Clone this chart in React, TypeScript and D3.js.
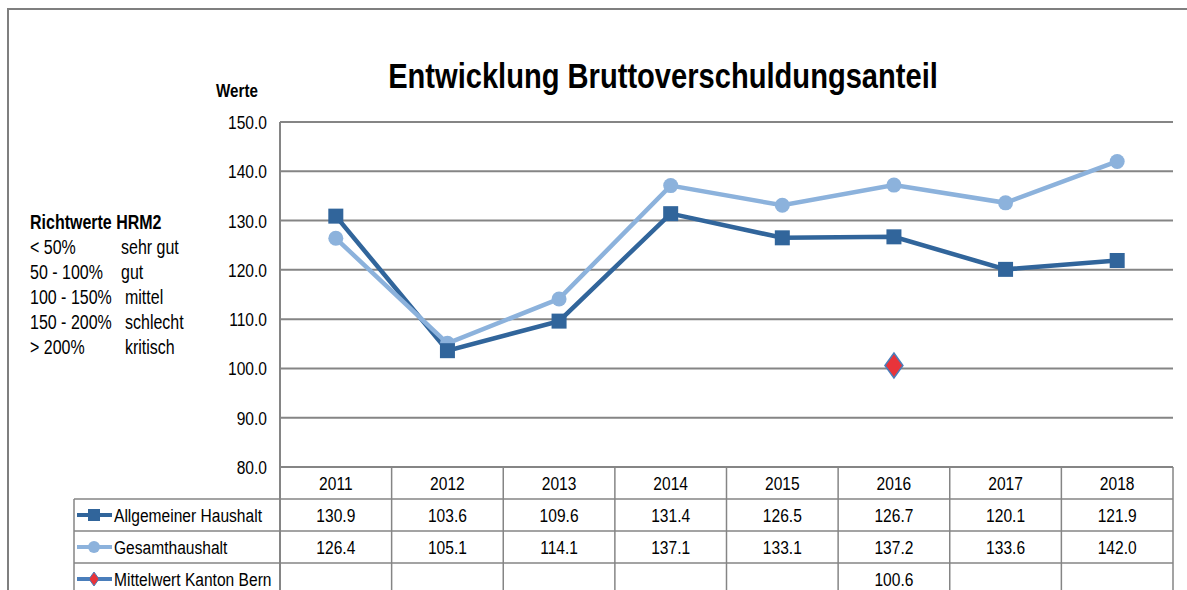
import React from "react";
import * as d3 from "d3";

const years = ["2011", "2012", "2013", "2014", "2015", "2016", "2017", "2018"];
const allgemeiner = [130.9, 103.6, 109.6, 131.4, 126.5, 126.7, 120.1, 121.9];
const gesamt = [126.4, 105.1, 114.1, 137.1, 133.1, 137.2, 133.6, 142.0];
const mittelwert: (number | null)[] = [null, null, null, null, null, 100.6, null, null];
const yTicks = [80, 90, 100, 110, 120, 130, 140, 150];
const richtwerte = [
  ["< 50%", "sehr gut"],
  ["50 - 100%", "gut"],
  ["100 - 150%", "mittel"],
  ["150 - 200%", "schlecht"],
  ["> 200%", "kritisch"],
];

const FONT = "'Liberation Sans', Arial, sans-serif";
const DARK = "#31659b";
const LIGHT = "#8cb2dc";
const GRID = "#858585";
const NARROW = 0.82;

function T(props: {
  x: number;
  y: number;
  size: number;
  anchor?: "start" | "middle" | "end";
  bold?: boolean;
  children: React.ReactNode;
}) {
  return (
    <text
      transform={`translate(${props.x},${props.y}) scale(${NARROW},1)`}
      textAnchor={props.anchor || "start"}
      fontSize={props.size}
      fontWeight={props.bold ? "bold" : "normal"}
      fill="#000"
    >
      {props.children}
    </text>
  );
}

export default function App() {
  const W = 1187, H = 590;
  const left = 280, right = 1173, top = 122, bottom = 467;
  const x = d3.scaleBand<string>().domain(years).range([left, right]);
  const y = d3.scaleLinear().domain([80, 150]).range([bottom, top]);
  const cx = (yr: string) => (x(yr) as number) + x.bandwidth() / 2;

  const line = d3
    .line<number>()
    .x((_, i) => cx(years[i]))
    .y((d) => y(d));

  const rowTop = [467, 499, 531, 563, 595];
  const tableLeft = 74;
  const rowMid = (r: number) => (rowTop[r] + rowTop[r + 1]) / 2;

  const diamond = (px: number, py: number, w: number, h: number) =>
    `M${px},${py - h / 2}L${px + w / 2},${py}L${px},${py + h / 2}L${px - w / 2},${py}Z`;

  const seriesRows = [
    { name: "Allgemeiner Haushalt", values: allgemeiner as (number | null)[], kind: "square", color: DARK },
    { name: "Gesamthaushalt", values: gesamt as (number | null)[], kind: "circle", color: LIGHT },
    { name: "Mittelwert Kanton Bern", values: mittelwert, kind: "diamond", color: "#4a7ebb" },
  ];

  return (
    <svg
      width={W}
      height={H}
      style={{ position: "absolute", left: 0, top: 0, background: "#fff" }}
      fontFamily={FONT}
    >
      {/* outer frame */}
      <rect x={8} y={9} width={W + 20} height={H + 20} fill="none" stroke="#7f7f7f" strokeWidth={2} />

      {/* title */}
      <T x={663} y={88} size={35.5} bold anchor="middle">Entwicklung Bruttoverschuldungsanteil</T>
      <T x={237} y={97} size={18.5} bold anchor="middle">Werte</T>

      {/* grid lines */}
      {yTicks.map((t) => (
        <line key={t} x1={left} x2={right} y1={y(t)} y2={y(t)} stroke={GRID} strokeWidth={2} />
      ))}
      <line x1={left} x2={left} y1={top} y2={rowTop[4]} stroke={GRID} strokeWidth={2} />
      {yTicks.map((t) => (
        <T key={t} x={267} y={y(t) + 7} size={19} anchor="end">
          {d3.format(".1f")(t)}
        </T>
      ))}

      {/* Richtwerte legend */}
      <T x={30} y={229} size={19.5} bold>Richtwerte HRM2</T>
      {richtwerte.map((r, i) => (
        <g key={i}>
          <T x={30} y={254 + i * 25} size={19.5}>{r[0]}</T>
          <T x={i < 2 ? 121 : 125} y={254 + i * 25} size={19.5}>{r[1]}</T>
        </g>
      ))}

      {/* series lines */}
      <path d={line(allgemeiner) as string} fill="none" stroke={DARK} strokeWidth={4.5} />
      <path d={line(gesamt) as string} fill="none" stroke={LIGHT} strokeWidth={4.5} />
      {gesamt.map((v, i) => (
        <circle key={i} cx={cx(years[i])} cy={y(v)} r={7.5} fill={LIGHT} />
      ))}
      {allgemeiner.map((v, i) => (
        <rect key={i} x={cx(years[i]) - 7.5} y={y(v) - 7.5} width={15} height={15} fill={DARK} />
      ))}
      {mittelwert.map((v, i) =>
        v == null ? null : (
          <path key={i} d={diamond(cx(years[i]), y(v), 18, 25)} fill="#e8343a" stroke="#4a7ebb" strokeWidth={1.5} />
        )
      )}

      {/* data table */}
      {years.map((yr) => (
        <line key={yr} x1={(x(yr) as number) + x.bandwidth()} x2={(x(yr) as number) + x.bandwidth()} y1={rowTop[0]} y2={rowTop[4]} stroke={GRID} strokeWidth={1.5} />
      ))}
      <line x1={tableLeft} x2={tableLeft} y1={rowTop[1]} y2={rowTop[4]} stroke={GRID} strokeWidth={1.5} />
      {[1, 2, 3].map((r) => (
        <line key={r} x1={tableLeft} x2={right} y1={rowTop[r]} y2={rowTop[r]} stroke={GRID} strokeWidth={1.5} />
      ))}
      {years.map((yr) => (
        <T key={yr} x={cx(yr)} y={rowMid(0) + 7} size={19} anchor="middle">{yr}</T>
      ))}
      {seriesRows.map((s, r) => {
        const my = rowMid(r + 1);
        return (
          <g key={s.name}>
            <line x1={77} x2={112} y1={my} y2={my} stroke={s.kind === "diamond" ? "#4a7ebb" : s.color} strokeWidth={4} />
            {s.kind === "square" && <rect x={88} y={my - 6} width={12} height={12} fill={s.color} />}
            {s.kind === "circle" && <circle cx={94} cy={my} r={6} fill={s.color} />}
            {s.kind === "diamond" && <path d={diamond(94, my, 10, 14)} fill="#e8343a" stroke="#4a7ebb" strokeWidth={1} />}
            <T x={114} y={my + 7} size={19}>{s.name}</T>
            {s.values.map((v, i) =>
              v == null ? null : (
                <T key={i} x={cx(years[i])} y={my + 7} size={19} anchor="middle">
                  {d3.format(".1f")(v)}
                </T>
              )
            )}
          </g>
        );
      })}
    </svg>
  );
}
